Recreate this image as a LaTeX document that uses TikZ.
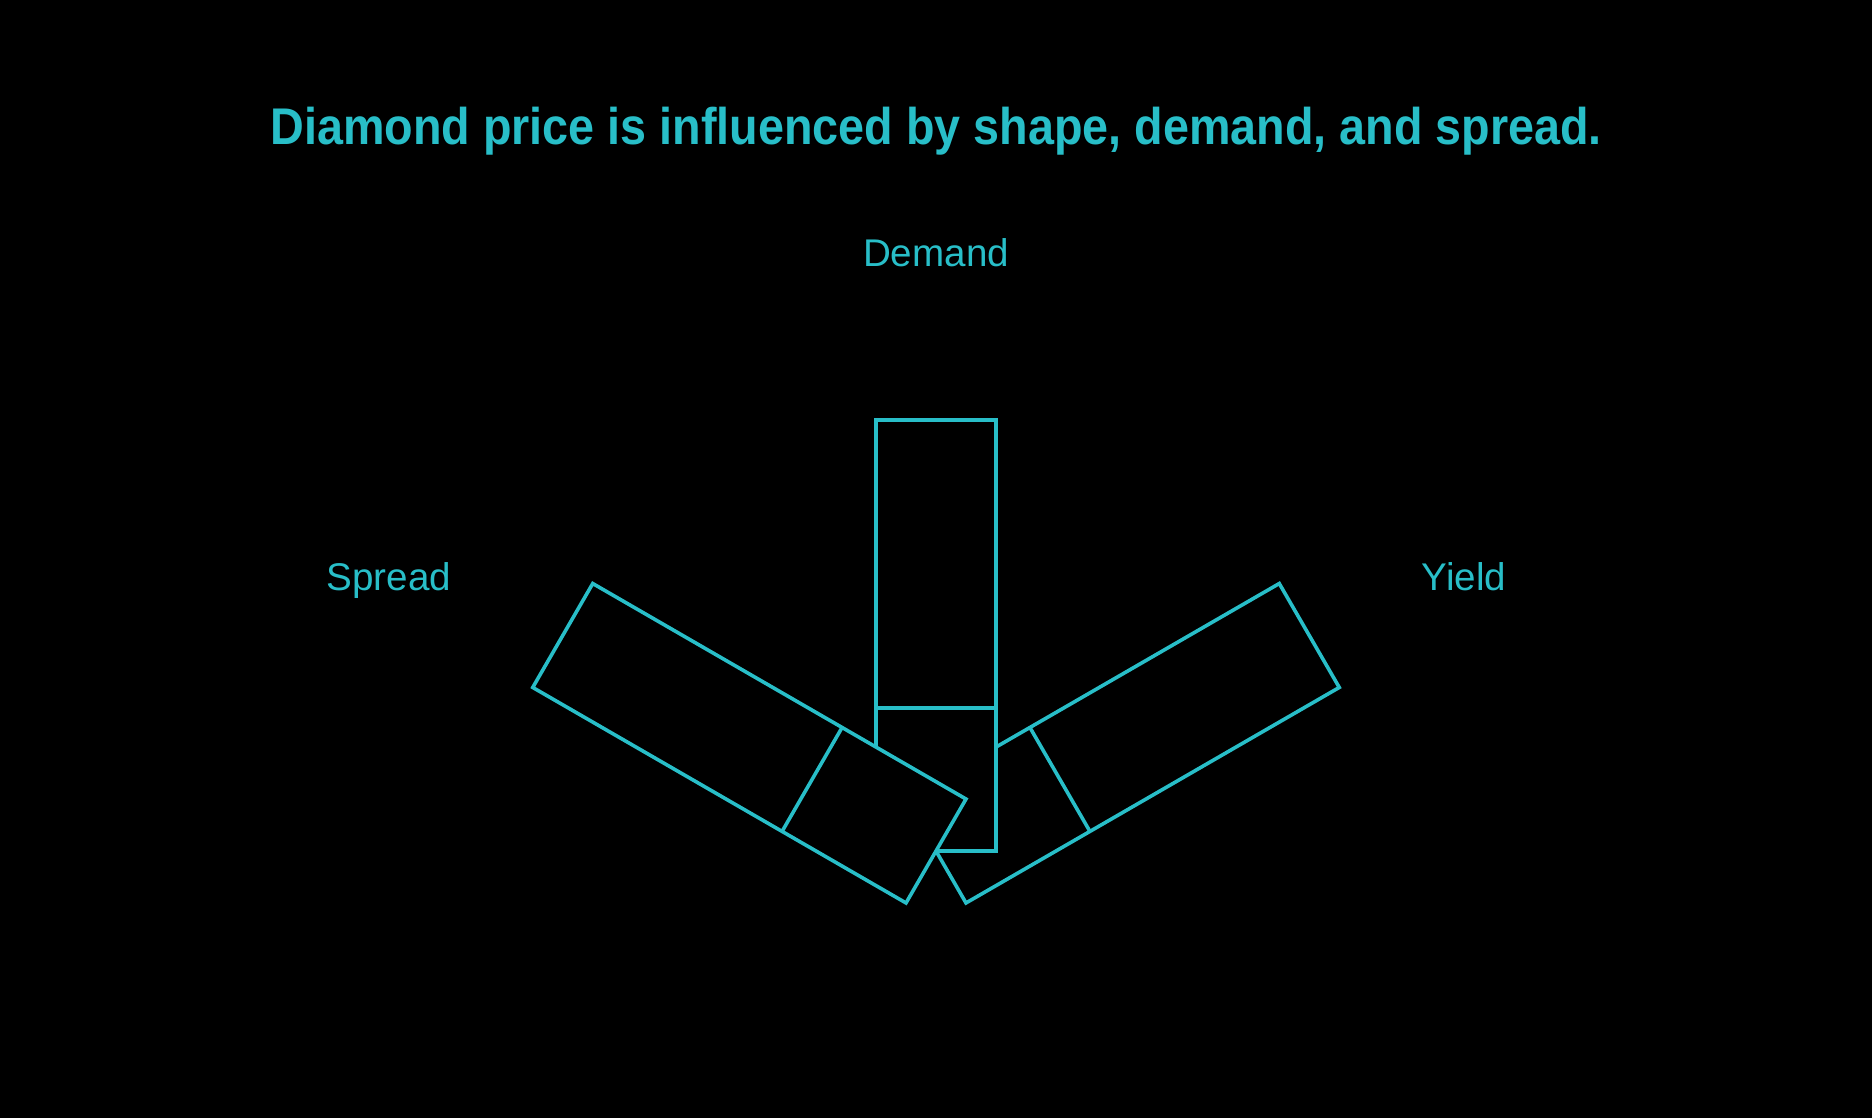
\documentclass[tikz,border=0pt]{standalone}
\usepackage{fontspec}
\setmainfont{Liberation Sans}
\newfontfamily\narrowsans{Liberation Sans}[FakeStretch=0.905]
\usetikzlibrary{calc}
\definecolor{fanteal}{RGB}{40,190,200}
\tikzset{
  bar/.style={draw=fanteal, fill=black, line width=1.8pt, minimum width=60pt,
    minimum height=215.5pt, inner sep=0pt, outer sep=0pt, anchor=south},
  divider/.style={draw=fanteal, line width=1.8pt},
  fanlabel/.style={text=fanteal, font=\fontsize{19.3}{23}\selectfont, anchor=base},
  titletext/.style={text=fanteal, font=\narrowsans\bfseries\fontsize{25.8}{31}\selectfont, anchor=base},
}
\begin{document}
\begin{tikzpicture}[x=0.5pt,y=0.5pt]
    \def\f{0.332}
    \fill[black] (0,0) rectangle (1872,1118);
    \useasboundingbox (0,0) rectangle (1872,1118);
    \coordinate (pivot) at (936,267);
    \node[titletext] (title) at (936,973.5) {Diamond price is influenced by shape, demand, and spread.};
    \node[fanlabel] (demand) at (936,851) {Demand};
    \node[fanlabel] (spread) at (389,527) {Spread};
    \node[fanlabel] (yield) at (1464,527) {Yield};
    % back to front: yield, demand, spread
    \node[bar, rotate=-60] (yieldbar) at (pivot) {};
    \draw[divider] ($(yieldbar.south west)!\f!(yieldbar.north west)$)
      -- ($(yieldbar.south east)!\f!(yieldbar.north east)$);
    \node[bar] (demandbar) at (pivot) {};
    \draw[divider] ($(demandbar.south west)!\f!(demandbar.north west)$)
      -- ($(demandbar.south east)!\f!(demandbar.north east)$);
    \node[bar, rotate=60] (spreadbar) at (pivot) {};
    \draw[divider] ($(spreadbar.south west)!\f!(spreadbar.north west)$)
      -- ($(spreadbar.south east)!\f!(spreadbar.north east)$);
  \end{tikzpicture}
\end{document}
